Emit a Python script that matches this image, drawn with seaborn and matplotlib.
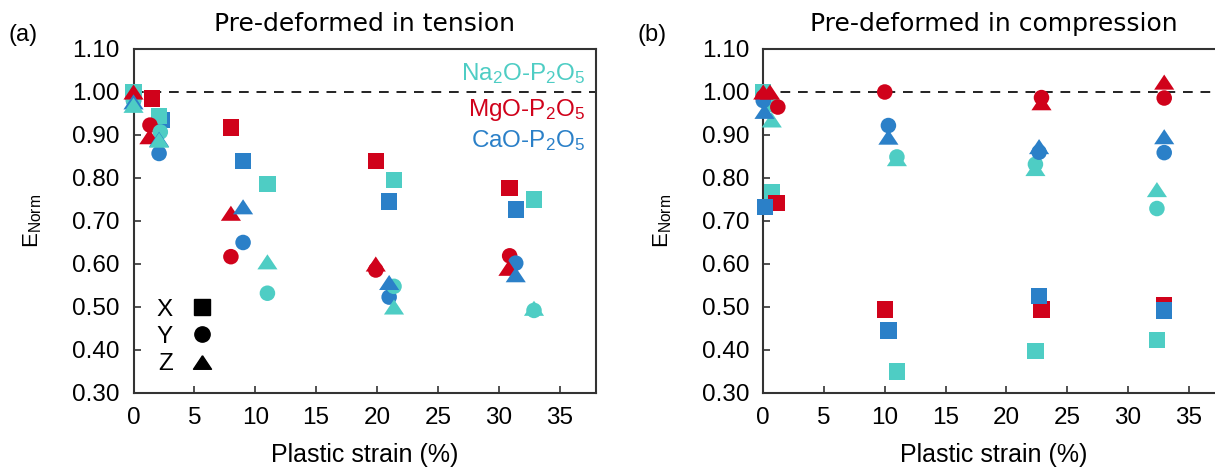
import numpy as np
import pandas as pd
import matplotlib
matplotlib.use("Agg")
import matplotlib.pyplot as plt
from matplotlib.lines import Line2D
import seaborn as sns

# ---------------- data ----------------
materials = ["Na2O-P2O5", "MgO-P2O5", "CaO-P2O5"]
directions = ["X", "Y", "Z"]

# (a) Pre-deformed in tension
t_na_x_strain = [0, 2.1, 11.0, 21.4, 32.9]
t_na_x_e = [1.0, 0.944, 0.786, 0.795, 0.75]
t_na_y_strain = [0, 2.2, 11.0, 21.4, 32.9]
t_na_y_e = [0.98, 0.907, 0.532, 0.548, 0.492]
t_na_z_strain = [0, 2.1, 11.0, 21.4, 32.9]
t_na_z_e = [0.969, 0.888, 0.605, 0.50, 0.497]

t_mg_x_strain = [1.5, 8.0, 19.9, 30.9]
t_mg_x_e = [0.985, 0.917, 0.84, 0.777]
t_mg_y_strain = [1.35, 8.0, 19.9, 30.9]
t_mg_y_e = [0.923, 0.617, 0.586, 0.619]
t_mg_z_strain = [0, 1.3, 8.0, 19.9, 30.8]
t_mg_z_e = [1.0, 0.896, 0.718, 0.60, 0.59]

t_ca_x_strain = [2.3, 9.0, 21.0, 31.4]
t_ca_x_e = [0.935, 0.84, 0.745, 0.727]
t_ca_y_strain = [0, 2.1, 9.0, 21.0, 31.4]
t_ca_y_e = [0.98, 0.857, 0.65, 0.523, 0.602]
t_ca_z_strain = [0, 2.1, 9.0, 21.0, 31.4]
t_ca_z_e = [0.977, 0.89, 0.733, 0.557, 0.575]

# (b) Pre-deformed in compression
c_na_x_strain = [0, 0.7, 11.0, 22.4, 32.4]
c_na_x_e = [1.0, 0.766, 0.35, 0.397, 0.423]
c_na_y_strain = [0.8, 11.0, 22.4, 32.4]
c_na_y_e = [0.97, 0.849, 0.832, 0.729]
c_na_z_strain = [0.7, 11.0, 22.4, 32.4]
c_na_z_e = [0.935, 0.845, 0.822, 0.773]

c_mg_x_strain = [1.1, 10.0, 22.9, 33.0]
c_mg_x_e = [0.742, 0.494, 0.494, 0.505]
c_mg_y_strain = [0, 1.2, 10.0, 22.9, 33.0]
c_mg_y_e = [0.988, 0.965, 1.0, 0.987, 0.986]
c_mg_z_strain = [0, 0.55, 22.9, 33.0]
c_mg_z_e = [1.0, 1.0, 0.975, 1.023]

c_ca_x_strain = [0.14, 10.3, 22.7, 33.0]
c_ca_x_e = [0.733, 0.445, 0.525, 0.492]
c_ca_y_strain = [0, 10.3, 22.7, 33.0]
c_ca_y_e = [0.98, 0.922, 0.86, 0.859]
c_ca_z_strain = [0.1, 10.3, 22.7, 33.0]
c_ca_z_e = [0.955, 0.895, 0.873, 0.896]

x_ticks = [0, 5, 10, 15, 20, 25, 30, 35]
y_ticks = [0.30, 0.40, 0.50, 0.60, 0.70, 0.80, 0.90, 1.00, 1.10]
panel_titles = ["Pre-deformed in tension", "Pre-deformed in compression"]
panel_tags = ["(a)", "(b)"]
material_labels = [r"Na$_2$O-P$_2$O$_5$", r"MgO-P$_2$O$_5$", r"CaO-P$_2$O$_5$"]


def frame(rows):
    recs = []
    for mat, dire, xs, ys in rows:
        for x, y in zip(xs, ys):
            recs.append({"material": mat, "direction": dire, "strain": x, "E": y})
    return pd.DataFrame(recs)


df_t = frame([
    ("MgO-P2O5", "X", t_mg_x_strain, t_mg_x_e),
    ("CaO-P2O5", "X", t_ca_x_strain, t_ca_x_e),
    ("Na2O-P2O5", "X", t_na_x_strain, t_na_x_e),
    ("MgO-P2O5", "Y", t_mg_y_strain, t_mg_y_e),
    ("CaO-P2O5", "Y", t_ca_y_strain, t_ca_y_e),
    ("Na2O-P2O5", "Y", t_na_y_strain, t_na_y_e),
    ("MgO-P2O5", "Z", t_mg_z_strain, t_mg_z_e),
    ("CaO-P2O5", "Z", t_ca_z_strain, t_ca_z_e),
    ("Na2O-P2O5", "Z", t_na_z_strain, t_na_z_e),
])
df_c = frame([
    ("Na2O-P2O5", "X", c_na_x_strain, c_na_x_e),
    ("MgO-P2O5", "X", c_mg_x_strain, c_mg_x_e),
    ("CaO-P2O5", "X", c_ca_x_strain, c_ca_x_e),
    ("Na2O-P2O5", "Y", c_na_y_strain, c_na_y_e),
    ("MgO-P2O5", "Y", c_mg_y_strain, c_mg_y_e),
    ("CaO-P2O5", "Y", c_ca_y_strain, c_ca_y_e),
    ("Na2O-P2O5", "Z", c_na_z_strain, c_na_z_e),
    ("MgO-P2O5", "Z", c_mg_z_strain, c_mg_z_e),
    ("CaO-P2O5", "Z", c_ca_z_strain, c_ca_z_e),
])

# ---------------- style ----------------
sns.set_style("white")
plt.rcParams["font.family"] = ["Liberation Sans", "DejaVu Sans"]
plt.rcParams["mathtext.fontset"] = "custom"
plt.rcParams["mathtext.rm"] = "Liberation Sans"
plt.rcParams["mathtext.it"] = "Liberation Sans"
plt.rcParams["mathtext.default"] = "regular"
plt.rcParams["text.color"] = "black"
plt.rcParams["axes.labelcolor"] = "black"
plt.rcParams["xtick.labelcolor"] = "black"
plt.rcParams["ytick.labelcolor"] = "black"

palette = {"Na2O-P2O5": "#4ECDC4", "MgO-P2O5": "#D0021B", "CaO-P2O5": "#2B80C8"}
tri = [(0, 0.75), (-1, -0.75), (1, -0.75), (0, 0.75)]
markers = {"X": "s", "Y": "o", "Z": tri}
sizes = {"X": 140, "Y": 125, "Z": 210}
spine_col = "#333333"

fig = plt.figure(figsize=(12.15, 4.68), dpi=100)
ax_a = fig.add_axes([0.1099, 0.1603, 0.3807, 0.735])
ax_b = fig.add_axes([0.6282, 0.1603, 0.3800, 0.735])

for ax, df, title in [(ax_a, df_t, panel_titles[0]), (ax_b, df_c, panel_titles[1])]:
    for dire in directions:
        sub = df[df["direction"] == dire]
        sns.scatterplot(data=sub, x="strain", y="E", hue="material", palette=palette,
                        marker=markers[dire], s=sizes[dire], linewidth=0, legend=False,
                        ax=ax, zorder=3, clip_on=False)
    ax.axhline(1.0, color="#222222", linestyle=(0, (5, 4)), linewidth=1.4, zorder=1)
    ax.set_xlim(0, 38)
    ax.set_ylim(0.30, 1.10)
    ax.set_xticks(x_ticks)
    ax.set_yticks(y_ticks)
    ax.set_yticklabels([f"{v:.2f}" for v in y_ticks])
    ax.tick_params(axis="both", direction="in", length=5, width=1.2, color=spine_col,
                   labelsize=17.5, pad=10, top=False, right=False, bottom=True, left=True)
    for sp in ax.spines.values():
        sp.set_color(spine_col)
        sp.set_linewidth(1.5)
    ax.set_xlabel("Plastic strain (%)", fontsize=18, labelpad=10)
    ax.set_ylabel(r"E$_{\mathrm{Norm}}$", fontsize=16, labelpad=20)
    ax.set_title(title, fontsize=18, family="DejaVu Sans", pad=13)

fig.text(0.007, 0.925, panel_tags[0], fontsize=17, ha="left", va="center")
fig.text(0.525, 0.925, panel_tags[1], fontsize=17, ha="left", va="center")

# material colour key (panel a)
key_y = [0.930, 0.822, 0.733]
for lab, mat, yy in zip(material_labels, materials, key_y):
    ax_a.text(0.977, yy, lab, color=palette[mat], fontsize=17.5,
              ha="right", va="center", transform=ax_a.transAxes)

# direction marker key (panel a)
handles = [Line2D([], [], linestyle="none", marker=markers[d], color="black",
                  markersize=11 if d != "Z" else 13) for d in directions]
leg = ax_a.legend(handles, directions, markerfirst=False, frameon=False,
                  loc="lower left", bbox_to_anchor=(0.003, -0.012), fontsize=17.5,
                  handletextpad=0.6, labelspacing=0.22, handlelength=1.2)

fig.savefig("out.png", dpi=100)
